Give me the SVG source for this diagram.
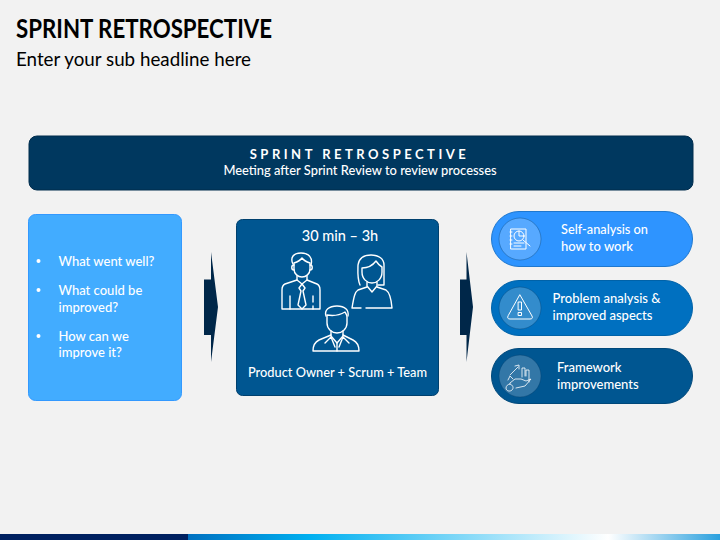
<svg xmlns="http://www.w3.org/2000/svg" width="720" height="540" viewBox="0 0 720 540">
<style>
text{font-family:"Lato","Open Sans","Liberation Sans",sans-serif}
.w{fill:#fff;font-size:13px;font-weight:500}
.ic{fill:none;stroke:#fff;stroke-width:1.4;stroke-linecap:round;stroke-linejoin:round}
.is{fill:none;stroke:#fff;stroke-width:1;stroke-linecap:round;stroke-linejoin:round}
.circ{fill:#fff;fill-opacity:.2;stroke:#003a66;stroke-opacity:.35}
.arrow{fill:#002749}
</style>
<defs>
<linearGradient id="bar" x1="188" x2="720" y1="0" y2="0" gradientUnits="userSpaceOnUse">
<stop offset="0" stop-color="#0070c0"/><stop offset=".23" stop-color="#00b0f0"/><stop offset=".79" stop-color="#fff"/><stop offset="1" stop-color="#2aa0de"/>
</linearGradient>
</defs>
<rect width="720" height="540" fill="#f2f2f2"/>
<g id="heading">
<text x="16" y="37.500" font-size="26" font-weight="700" fill="#000" textLength="256" lengthAdjust="spacingAndGlyphs">SPRINT RETROSPECTIVE</text>
<text x="16" y="66" font-size="19.500" fill="#000" textLength="235" lengthAdjust="spacingAndGlyphs">Enter your sub headline here</text>
</g>
<g id="banner">
<rect x="29" y="136" width="664" height="54" rx="8" fill="#00385f" stroke="#002c4d"/>
<text x="359.500" y="158.500" font-size="13" font-weight="700" fill="#fff" text-anchor="middle" letter-spacing="3.500">SPRINT RETROSPECTIVE</text>
<text x="360" y="175" font-size="12.900" font-weight="500" fill="#fff" text-anchor="middle">Meeting after Sprint Review to review processes</text>
</g>
<g id="questions">
<rect x="28.500" y="214.500" width="153" height="186" rx="7" fill="#42acff" stroke="#3399ff"/>
<circle cx="38.500" cy="261" r="2" fill="#fff"/>
<circle cx="38.500" cy="290" r="2" fill="#fff"/>
<circle cx="38.500" cy="336" r="2" fill="#fff"/>
<text class="w" x="58.500" y="266">What went well?</text>
<text class="w" x="58.500" y="295">What could be</text>
<text class="w" x="58.500" y="312">improved?</text>
<text class="w" x="58.500" y="341">How can we</text>
<text class="w" x="58.500" y="357">improve it?</text>
</g>
<g id="connectors">
<path class="arrow" d="M204 279.500H211V252L218 307L211 362V335H204Z"/>
<path class="arrow" d="M460 279.500H466.500V252L473 307L466.500 362V335H460Z"/>
</g>
<g id="team">
<rect x="236.500" y="219.500" width="202" height="176" rx="6" fill="#005691" stroke="#00406e"/>
<text x="340" y="241" font-size="14.500" font-weight="500" fill="#fff" text-anchor="middle">30 min – 3h</text>
<text class="w" x="337.500" y="377" text-anchor="middle" textLength="179" lengthAdjust="spacingAndGlyphs">Product Owner + Scrum + Team</text>
<g class="ic">
<path d="M293 264C290 258 293 253 301 253C309 253 313 258 311 265"/>
<path d="M294 263C297 262 300 261 302 258C304 261 307 262 310 263V269C310 274 306 277 302 277C298 277 294 274 294 269Z"/>
<path d="M294 265C291 265 291 270 294 270M310 265C313 265 313 270 310 270"/>
<path d="M297 276V280L302 284L307 280V276"/>
<path d="M297 280L285 284C283 285 282 287 282 290V309H320V290C320 287 319 285 317 284L307 280"/>
<path d="M290 296V309M313 296V302M313 306V309"/>
<path d="M302 284L299 288L301 291L298 305L302 309L306 305L303 291L305 288Z"/>
<path d="M360 285C357 278 358 268 358 265C359 258 364 255 371 255C379 255 384 259 384 265V285H378"/>
<path d="M362 268C368 268 373 265 376 261C378 264 380 266 382 267V272C382 279 377 283 372 283C367 283 362 279 362 272Z"/>
<path d="M367 282V286L372 292L377 286V282"/>
<path d="M367 287L358 290C355 292 354 296 352 308H361M366 308H392C391 296 389 292 386 290L377 287"/>
<path d="M326 316C324 310 329 306 337 306C345 306 349 310 348 316"/>
<path d="M327 315C333 316 340 315 345 312C346 314 347 315 347 317V323C347 329 342 333 337 333C332 333 327 329 327 323Z"/>
<path d="M331 331V336L337 343L343 336V331"/>
<path d="M331 335L319 340C315 342 313 346 313 351H359C359 346 357 342 353 340L343 335"/>
<path d="M325 343L331 337L335 347M349 343L343 337L339 347M337 343V351"/>
</g>
</g>
<g id="self-analysis">
<rect x="491.500" y="211.500" width="201" height="55" rx="27.500" fill="#2e94ff" stroke="#1f78cf"/>
<circle class="circ" cx="520" cy="239" r="21"/>
<g class="is">
<path d="M511 229H526V249H511ZM510 232H512M510 236H512M510 240H512M510 244H512"/>
<circle cx="519" cy="236" r="5"/>
<path d="M519 231V236H524M523 240L530 246"/>
<path d="M514 243H524M514 246H521"/>
</g>
<text class="w" x="561" y="234" textLength="87" lengthAdjust="spacingAndGlyphs">Self-analysis on</text>
<text class="w" x="561" y="251">how to work</text>
</g>
<g id="problem-analysis">
<rect x="491.500" y="280.500" width="201" height="55" rx="27.500" fill="#0070c0" stroke="#0062a8"/>
<circle class="circ" cx="520" cy="308" r="21"/>
<g class="is">
<path d="M520 295L532 316C533 318 532 319 530 319H510C508 319 507 318 508 316Z"/>
<path d="M518.500 302H521.500V310H518.500ZM518.500 312.500H521.500V315.500H518.500Z"/>
</g>
<text class="w" x="552.500" y="303">Problem analysis &amp;</text>
<text class="w" x="552.500" y="320">improved aspects</text>
</g>
<g id="framework">
<rect x="491.500" y="348.500" width="201" height="55" rx="27.500" fill="#005691" stroke="#00487a"/>
<circle class="circ" cx="520" cy="376" r="21"/>
<g class="is" stroke-opacity=".8">
<path d="M510 375L518 367M515 366L519 365L519 369"/>
<path d="M522 377V368H525V376M526 376V370H529V382"/>
<path d="M510 383L515 379H521L526 381L531 379L525 386L516 388"/>
<path d="M513 379L510 376L508 380M510 384C513 385 514 388 512 390C510 392 506 391 506 388C506 386 508 384 510 384Z"/>
</g>
<text class="w" x="557" y="372">Framework</text>
<text class="w" x="557" y="389">improvements</text>
</g>
<g id="footer">
<rect x="0" y="534" width="188" height="6" fill="#002060"/>
<rect x="188" y="534" width="532" height="6" fill="url(#bar)"/>
</g>
</svg>
